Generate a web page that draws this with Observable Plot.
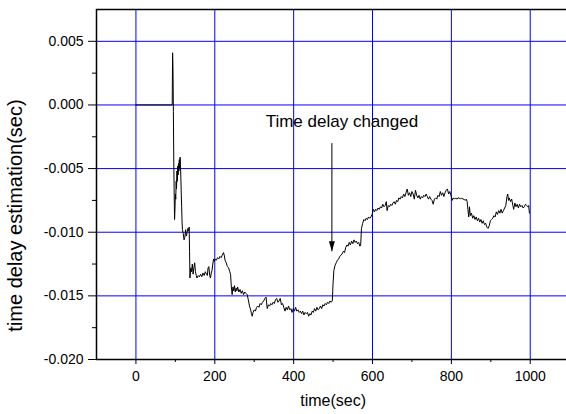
<!DOCTYPE html>
<html><head><meta charset="utf-8">
<script src="https://cdn.jsdelivr.net/npm/d3@7"></script>
<script src="https://cdn.jsdelivr.net/npm/@observablehq/plot@0.6"></script>
<style>body{margin:0;background:#fff;overflow:hidden}svg{display:block}</style>
</head><body><div id="chart"></div>
<script>
// time (sec) and estimated delay (sec)
const times = [0,92,93,94,95,96,97,98,99,100,101,102,103,104,105,106,107,108,109,110,111,112,113,114,115,116,117,118,120,122,124,126,128,130,132,134,135,136,137,139,141,143,145,147,149,151,153,155,158,161,164,167,170,173,176,179,181,183,185,187,189,191,193,195,197,199,201,204,207,210,213,216,219,222,224,226,229,232,235,238,240,242,244,246,248,250,252,254,256,258,261,264,267,270,273,276,279,282,285,288,291,293,295,297,300,303,306,309,312,315,318,321,324,327,330,333,336,339,342,345,348,351,354,357,360,363,366,369,372,375,378,381,384,387,390,393,396,399,402,405,408,411,414,417,420,423,426,429,432,435,438,441,444,447,450,453,456,459,462,465,468,471,474,477,480,483,486,489,492,495,498,500,502,505,508,511,514,517,520,523,526,529,532,535,538,541,544,547,550,553,556,559,562,565,568,570,572,575,578,581,584,587,590,593,596,599,602,605,608,611,614,617,620,623,626,629,632,635,637,640,643,646,649,652,655,658,661,664,667,670,673,676,679,682,685,688,691,694,697,700,703,706,709,712,715,718,721,724,727,730,733,736,739,742,745,748,751,754,757,760,763,766,769,772,775,778,781,784,787,790,793,796,799,802,805,808,811,814,817,820,823,826,829,832,835,838,840,842,844,846,848,851,854,857,860,863,866,869,872,875,878,881,884,887,890,893,896,899,902,905,908,911,914,917,920,923,926,929,932,935,938,941,943,945,947,950,953,956,958,961,964,967,970,973,976,979,982,985,988,991,994,996,998];
const delays = [0,0,0.0041,0.0028,-0.0005,-0.0045,-0.0070,-0.0090,-0.0082,-0.0070,-0.0074,-0.0060,-0.0066,-0.0052,-0.0060,-0.0048,-0.0055,-0.0046,-0.0052,-0.0043,-0.0050,-0.0041,-0.0047,-0.0058,-0.0070,-0.0080,-0.0092,-0.0098,-0.0101,-0.0106,-0.0104,-0.0098,-0.0103,-0.0100,-0.0097,-0.0099,-0.0096,-0.0115,-0.0136,-0.0128,-0.0131,-0.0125,-0.0133,-0.0128,-0.0124,-0.0131,-0.0134,-0.0136,-0.0134,-0.0135,-0.0133,-0.0135,-0.0132,-0.0134,-0.0131,-0.0133,-0.0134,-0.0128,-0.0127,-0.0134,-0.0136,-0.0132,-0.0130,-0.0125,-0.0121,-0.0123,-0.0121,-0.0122,-0.0120,-0.0121,-0.0119,-0.0120,-0.0118,-0.0116,-0.0118,-0.0122,-0.0124,-0.0127,-0.0128,-0.0131,-0.0133,-0.0143,-0.0149,-0.0143,-0.0146,-0.0142,-0.0147,-0.0144,-0.0146,-0.0143,-0.0147,-0.0145,-0.0148,-0.0146,-0.0149,-0.0147,-0.0148,-0.0149,-0.0153,-0.0158,-0.0161,-0.0164,-0.0166,-0.0163,-0.0161,-0.0162,-0.0159,-0.0158,-0.0159,-0.0156,-0.0157,-0.0155,-0.0154,-0.0152,-0.0151,-0.0160,-0.0157,-0.0158,-0.0156,-0.0157,-0.0155,-0.0156,-0.0153,-0.0152,-0.0155,-0.0154,-0.0152,-0.0157,-0.0156,-0.0159,-0.0162,-0.0159,-0.0161,-0.0158,-0.0161,-0.0160,-0.0163,-0.0160,-0.0162,-0.0159,-0.0162,-0.0161,-0.0163,-0.0162,-0.0164,-0.0162,-0.0165,-0.0163,-0.0164,-0.0163,-0.0166,-0.0164,-0.0165,-0.0162,-0.0163,-0.0160,-0.0162,-0.0159,-0.0161,-0.0160,-0.0158,-0.0160,-0.0157,-0.0158,-0.0156,-0.0157,-0.0155,-0.0156,-0.0154,-0.0155,-0.0154,-0.0140,-0.0130,-0.0126,-0.0124,-0.0122,-0.0121,-0.0119,-0.0118,-0.0117,-0.0115,-0.0116,-0.0112,-0.0110,-0.0111,-0.0108,-0.0110,-0.0107,-0.0109,-0.0106,-0.0108,-0.0107,-0.0109,-0.0108,-0.0111,-0.0110,-0.0097,-0.0093,-0.0090,-0.0091,-0.0089,-0.0090,-0.0088,-0.0089,-0.0088,-0.0086,-0.0082,-0.0084,-0.0082,-0.0083,-0.0081,-0.0082,-0.0080,-0.0081,-0.0078,-0.0080,-0.0079,-0.0076,-0.0083,-0.0079,-0.0080,-0.0078,-0.0079,-0.0077,-0.0076,-0.0078,-0.0075,-0.0076,-0.0073,-0.0074,-0.0072,-0.0073,-0.0070,-0.0072,-0.0069,-0.0066,-0.0071,-0.0069,-0.0072,-0.0068,-0.0070,-0.0074,-0.0067,-0.0071,-0.0073,-0.0071,-0.0074,-0.0072,-0.0073,-0.0071,-0.0072,-0.0070,-0.0072,-0.0074,-0.0072,-0.0074,-0.0075,-0.0078,-0.0074,-0.0073,-0.0074,-0.0071,-0.0072,-0.0068,-0.0071,-0.0069,-0.0072,-0.0069,-0.0067,-0.0066,-0.0070,-0.0068,-0.0071,-0.0075,-0.0073,-0.0074,-0.0073,-0.0074,-0.0073,-0.0073,-0.0074,-0.0073,-0.0074,-0.0074,-0.0075,-0.0074,-0.0076,-0.0082,-0.0088,-0.0080,-0.0087,-0.0085,-0.0089,-0.0087,-0.0090,-0.0088,-0.0091,-0.0089,-0.0092,-0.0090,-0.0093,-0.0091,-0.0094,-0.0093,-0.0096,-0.0097,-0.0095,-0.0091,-0.0090,-0.0089,-0.0087,-0.0088,-0.0084,-0.0086,-0.0083,-0.0085,-0.0082,-0.0085,-0.0083,-0.0081,-0.0079,-0.0072,-0.0070,-0.0075,-0.0073,-0.0076,-0.0074,-0.0079,-0.0082,-0.0077,-0.0080,-0.0078,-0.0081,-0.0078,-0.0080,-0.0079,-0.0081,-0.0080,-0.0078,-0.0079,-0.0080,-0.0079,-0.0085];

const xTicks = [0, 200, 400, 600, 800, 1000];
const xMinor = [100, 300, 500, 700, 900];
const yTicks = [-0.020, -0.015, -0.010, -0.005, 0.000, 0.005];
const yGrid = [-0.015, -0.010, -0.005, 0.000, 0.005];
const yMinor = [-0.0175, -0.0125, -0.0075, -0.0025, 0.0025];
const xLabel = "time(sec)";
const yLabel = "time delay estimation(sec)";
const note = "Time delay changed";
const noteX = 329, noteY = -0.0013;
const arrowX = 497, arrowFrom = -0.0030, arrowTo = -0.0115;

const data = times.map((t, i) => ({t, v: delays[i]}));
const head = {draw(ctx) { ctx.moveTo(0, 0); ctx.lineTo(-3, -10); ctx.lineTo(3, -10); ctx.closePath(); }};

const chart = Plot.plot({
  width: 566, height: 414,
  marginLeft: 96, marginTop: 9, marginBottom: 55, marginRight: 0,
  style: {fontFamily: "'Liberation Sans', Arial, sans-serif", fontSize: "14px", background: "white", color: "black"},
  x: {domain: [-100, 1092]},
  y: {domain: [-0.020, 0.0075]},
  marks: [
    Plot.gridX(xTicks, {stroke: "#0000ff", strokeOpacity: 1, strokeWidth: 1}),
    Plot.gridY(yGrid, {stroke: "#0000ff", strokeOpacity: 1, strokeWidth: 1}),
    Plot.line(data, {x: "t", y: "v", stroke: "black", strokeWidth: 1}),
    Plot.ruleY([0.0075], {stroke: "black", strokeWidth: 1.5}),
    Plot.ruleY([-0.020], {stroke: "black", strokeWidth: 1.5}),
    Plot.ruleX([-100], {stroke: "black", strokeWidth: 1.5}),
    Plot.axisX(xTicks, {tickSize: 5, tickPadding: 7, tickFormat: d => String(d), label: null, fontSize: 14}),
    Plot.axisX(xMinor, {tickSize: 3, tickFormat: () => "", label: null}),
    Plot.axisY(yTicks, {tickSize: 8, tickPadding: 5, tickFormat: d => d.toFixed(3), label: null, fontSize: 14}),
    Plot.axisY(yMinor, {tickSize: 4, tickFormat: () => "", label: null}),
    Plot.text([xLabel], {x: 500, frameAnchor: "bottom", dy: 41, lineAnchor: "middle", fontSize: 16}),
    Plot.text([yLabel], {frameAnchor: "left", dx: -81, dy: 31, rotate: -90, textAnchor: "middle", lineAnchor: "middle", fontSize: 20}),
    Plot.text([note], {x: noteX, y: noteY, textAnchor: "start", lineAnchor: "middle", fontSize: 17}),
    Plot.link([0], {x1: arrowX, x2: arrowX, y1: arrowFrom, y2: arrowTo, stroke: "black", strokeWidth: 1}),
    Plot.dot([0], {x: arrowX, y: arrowTo, symbol: head, fill: "black", stroke: "none"})
  ]
});
document.getElementById("chart").append(chart);
</script></body></html>
